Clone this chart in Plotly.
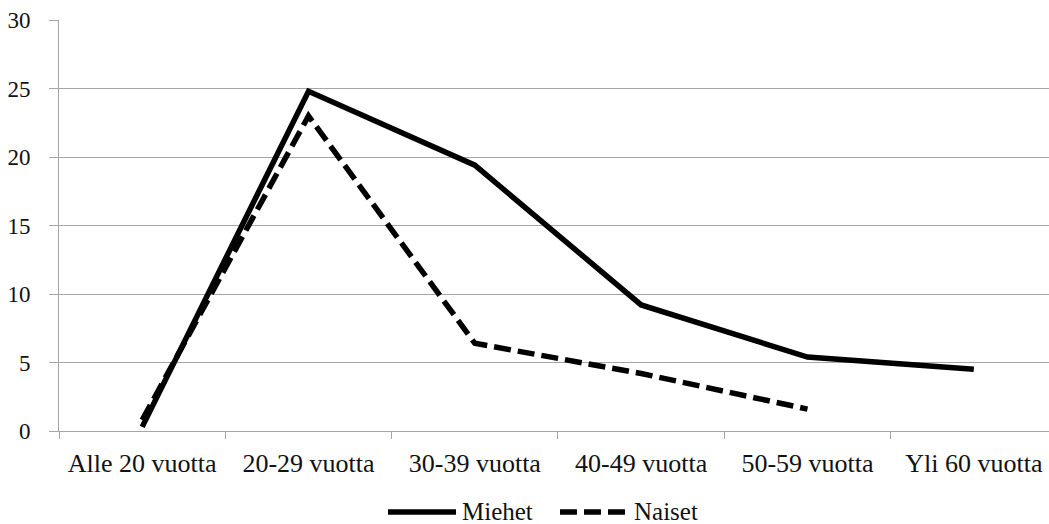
import plotly.graph_objects as go

# Age groups on the category axis
categories = ["Alle 20 vuotta", "20-29 vuotta", "30-39 vuotta",
              "40-49 vuotta", "50-59 vuotta", "Yli 60 vuotta"]

# Series values (percent) per age group
miehet = [0.3, 24.8, 19.4, 9.2, 5.4, 4.5]
naiset = [0.8, 23.0, 6.4, 4.2, 1.6, None]

y_ticks = [0, 5, 10, 15, 20, 25, 30]
series_names = ["Miehet", "Naiset"]

FONT = "Liberation Serif"
GRID = "#a6a6a6"
INK = "#111111"
DASH = "17px,7px"
LW = 5.5

fig = go.Figure()
fig.add_trace(go.Scatter(
    x=categories, y=miehet, name=series_names[0], mode="lines",
    line=dict(color="#000000", width=LW), showlegend=False,
))
fig.add_trace(go.Scatter(
    x=categories, y=naiset, name=series_names[1], mode="lines",
    line=dict(color="#000000", width=LW, dash=DASH), showlegend=False,
))

# Legend row below the axis: line sample followed by its label
L, R, T, B, W, H = 59, 0, 20, 93, 1049, 524
pw, ph = W - L - R, H - T - B


def px_x(px):
    return (px - L) / pw


def px_y(py):
    return (H - B - py) / ph


legend_y = 511
legend_items = [(series_names[0], 388, 456, None), (series_names[1], 560, 628, "dash")]
for name, x0, x1, dash in legend_items:
    fig.add_shape(
        type="line", xref="paper", yref="paper",
        x0=px_x(x0), x1=px_x(x1), y0=px_y(legend_y + 1), y1=px_y(legend_y + 1),
        line=dict(color="#000000", width=LW, dash=DASH if dash else "solid"),
    )
    fig.add_annotation(
        xref="paper", yref="paper", x=px_x(x1 + 5), y=px_y(legend_y),
        xanchor="left", yanchor="middle", text=name, showarrow=False,
        font=dict(family=FONT, size=25, color=INK), borderpad=0,
    )

fig.update_layout(
    width=W, height=H,
    margin=dict(l=L, r=R, t=T, b=B),
    paper_bgcolor="white", plot_bgcolor="white",
    font=dict(family=FONT, size=23, color=INK),
    showlegend=False,
)

fig.update_xaxes(
    type="category", range=[-0.5, 5.452], automargin=False,
    showline=True, linecolor=GRID, linewidth=1,
    showgrid=False, zeroline=False,
    ticks="outside", tickson="boundaries", ticklen=7,
    tickcolor=GRID, tickwidth=1, ticklabelstandoff=9,
    tickfont=dict(family=FONT, size=26, color=INK),
)
fig.update_yaxes(
    range=[0, 30], tickvals=y_ticks, automargin=False,
    showline=True, linecolor=GRID, linewidth=1,
    showgrid=True, gridcolor=GRID, gridwidth=1, zeroline=False,
    ticks="outside", ticklen=9, tickcolor=GRID, tickwidth=1,
    ticklabelstandoff=14,
    tickfont=dict(family=FONT, size=23, color=INK),
)

fig.write_html("out.html")
